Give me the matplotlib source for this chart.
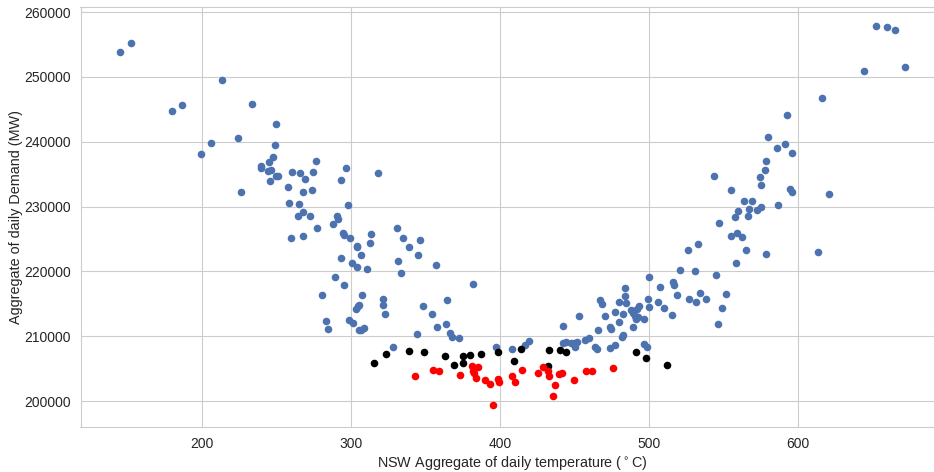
import matplotlib
matplotlib.use("Agg")
import matplotlib.pyplot as plt
import seaborn as sns

sns.set_style("whitegrid")
plt.rcParams['font.family'] = ['Liberation Sans', 'DejaVu Sans']

# ---- data: all days (blue) ----
temp_all = [
    144.6, 152.1, 213.4, 179.9, 186.2, 233.4, 249.7, 223.8, 206.0, 248.8,
    199.5, 247.8, 244.6, 239.5, 239.7, 246.1, 244.4, 249.7, 251.0, 245.4,
    260.3, 265.4, 268.7, 274.5, 276.3, 257.3, 225.8, 267.5, 273.8, 296.4,
    293.3, 317.7, 258.0, 264.9, 267.5, 264.2, 272.5, 297.8, 277.1, 290.8,
    291.1, 288.1, 259.7, 267.8, 294.6, 295.2, 299.0, 313.4, 312.4, 303.8,
    304.0, 306.9, 293.0, 300.8, 303.7, 310.5, 288.9, 295.3, 280.5, 307.0,
    304.3, 305.5, 303.4, 321.3, 321.4, 322.6, 282.8, 284.5, 298.8, 301.5,
    305.4, 308.7, 306.5, 330.9, 334.7, 346.3, 338.9, 344.8, 331.3, 333.2,
    357.0, 381.7, 348.1, 354.5, 364.6, 357.9, 363.9, 344.1, 366.6, 367.6,
    372.2, 328.0, 397.3, 408.3, 416.8, 419.4, 442.1, 442.3, 444.1, 447.5,
    449.3, 450.1, 451.5, 457.0, 459.7, 453.0, 463.8, 465.2, 465.8, 470.1,
    466.9, 468.4, 473.6, 474.6, 473.6, 477.1, 477.2, 479.9, 479.5, 482.4,
    481.7, 482.5, 483.8, 484.0, 484.5, 488.2, 489.5, 490.4, 491.1, 492.0,
    493.3, 492.9, 496.8, 489.3, 496.6, 498.7, 499.8, 499.0, 499.7, 506.3,
    507.5, 510.0, 515.1, 516.0, 516.9, 518.6, 520.5, 526.2, 532.6, 530.7,
    526.6, 531.5, 534.0, 538.1, 551.5, 548.8, 546.6, 545.2, 558.2, 565.1,
    578.8, 613.4, 555.0, 559.1, 562.7, 547.0, 557.5, 566.7, 559.7, 567.4,
    572.5, 575.4, 563.6, 569.1, 586.6, 543.6, 555.2, 574.6, 575.3, 577.9,
    594.6, 595.8, 620.8, 578.5, 580.1, 591.5, 585.7, 596.0, 592.6, 615.9,
    644.3, 671.6, 652.4, 660.0, 665.1,
]
demand_all = [
    253900, 255300, 249600, 244800, 245700, 245900, 242700, 240600, 239800, 239500,
    238100, 237600, 236900, 236200, 235900, 235700, 235500, 234700, 234700, 233900,
    235400, 235200, 234300, 235300, 237000, 233100, 232300, 232300, 232500, 235900,
    234100, 235200, 230500, 230400, 229100, 228500, 228500, 230200, 226700, 228500,
    228100, 227300, 225100, 225400, 225900, 225600, 225200, 225800, 224400, 224000,
    223800, 222600, 222100, 221300, 220700, 220400, 219100, 217900, 216300, 216300,
    214700, 214900, 214200, 215800, 214800, 213400, 212400, 211100, 212500, 212000,
    211000, 211200, 210900, 226700, 225100, 224900, 223700, 222600, 221600, 219700,
    221000, 218000, 214700, 213500, 215600, 211400, 211900, 210300, 210500, 209900,
    209800, 208400, 208300, 208100, 208700, 209300, 211600, 208900, 209100, 208900,
    208900, 208300, 209100, 209500, 209800, 213200, 208300, 208100, 211000, 213100,
    215600, 215000, 211500, 211100, 208200, 208700, 213800, 212200, 215300, 213500,
    209900, 210200, 217400, 216200, 215100, 214000, 213600, 213100, 212700, 214200,
    214600, 213000, 212600, 211400, 208800, 208300, 219200, 215700, 214500, 215300,
    217600, 214400, 213300, 218300, 217900, 216300, 220200, 223300, 224200, 220000,
    215700, 215300, 216600, 215700, 216500, 214300, 211900, 219400, 221300, 223300,
    222700, 223000, 225500, 226000, 225300, 227400, 228400, 228600, 229400, 229700,
    229500, 230000, 230900, 230900, 230300, 234800, 232600, 234500, 233400, 235600,
    232700, 232200, 231900, 237100, 240700, 239600, 239000, 238300, 244200, 246800,
    251000, 251600, 257900, 257700, 257200,
]

# ---- data: black group ----
temp_black = [315.2, 323.6, 338.9, 349.0, 362.7, 375.0, 379.5, 387.3, 398.7, 414.0,
              369.1, 374.8, 409.5, 432.9, 440.3, 444.1, 432.2, 490.9, 497.8, 512.0]
demand_black = [205800, 207200, 207700, 207500, 206900, 206900, 207100, 207300, 207500, 208000,
                205500, 205900, 206200, 207900, 207900, 207600, 205400, 207600, 206700, 205600]

# ---- data: red group ----
temp_red = [342.6, 354.8, 358.7, 373.2, 381.0, 385.0, 381.7, 382.4, 383.5, 389.9,
            393.1, 398.7, 399.3, 395.3, 408.3, 409.9, 414.4, 425.3, 428.5, 432.2,
            432.7, 436.7, 435.6, 439.6, 441.4, 449.7, 457.5, 461.5, 476.0]
demand_red = [203800, 204800, 204600, 204000, 205400, 205200, 204700, 204400, 203500, 203300,
              202700, 203400, 202900, 199400, 203800, 203000, 204800, 204400, 205200, 204700,
              203800, 202500, 200800, 204200, 204400, 203200, 204600, 204600, 205100]

fig = plt.figure(figsize=(9.34, 4.72), dpi=100)
ax = fig.add_axes([80.5 / 934, 45 / 472, 863.5 / 934, 420 / 472])

ax.scatter(temp_all, demand_all, s=30, color='#4C72B0', linewidths=0)
ax.scatter(temp_black, demand_black, s=30, color='black', linewidths=0)
ax.scatter(temp_red, demand_red, s=30, color='red', linewidths=0)

ax.set_xlim(118.3, 698)
ax.set_ylim(196000, 260800)
ax.set_xticks([200, 300, 400, 500, 600])
ax.set_yticks([200000, 210000, 220000, 230000, 240000, 250000, 260000])
ax.ticklabel_format(axis='y', style='plain', useOffset=False)
ax.tick_params(labelsize=10)

ax.set_xlabel('NSW Aggregate of daily temperature ($^\\circ$C)', fontsize=10.35, labelpad=2.5)
ax.set_ylabel('Aggregate of daily Demand (MW)', fontsize=10.35, labelpad=1)

fig.savefig('out.png', dpi=100)
